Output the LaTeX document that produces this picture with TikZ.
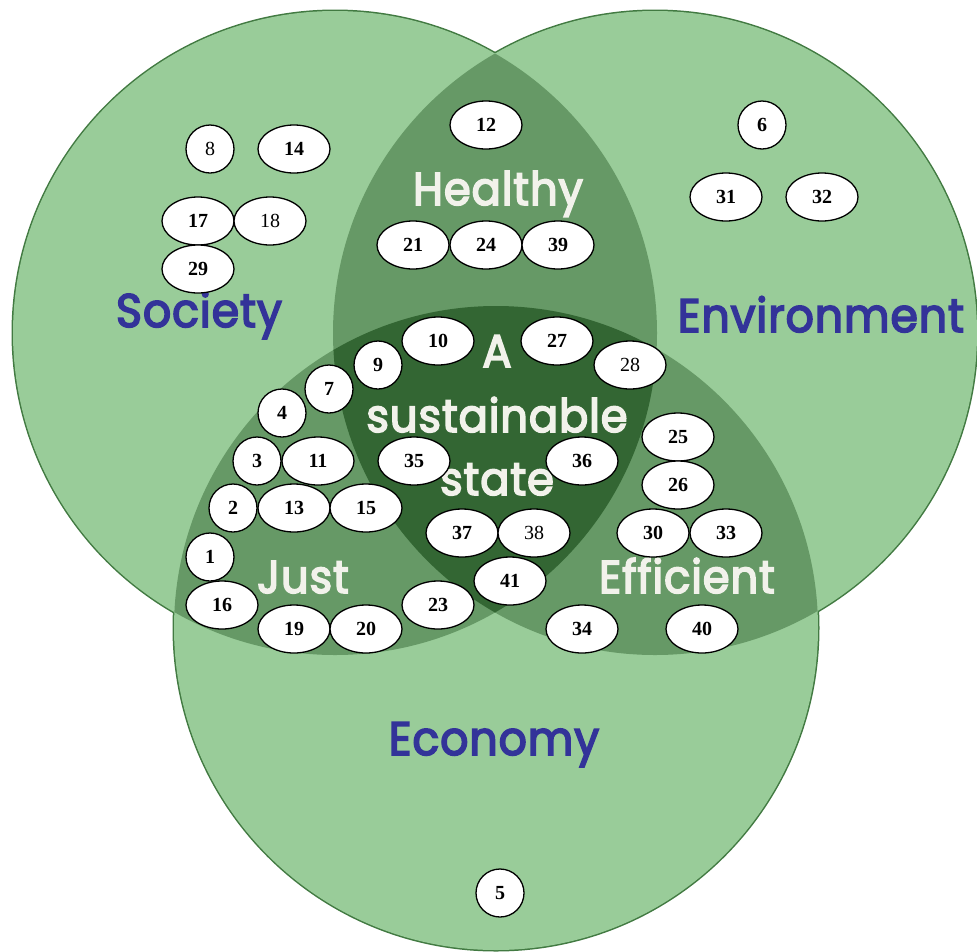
\documentclass[tikz,border=0pt]{standalone}
\usepackage{fontspec}
\setmainfont{Liberation Serif}
\newfontfamily\vennfont{Poppins}[FakeStretch=0.94, FakeBold=3.5, LetterSpace=2]
\usetikzlibrary{shapes.geometric}
\definecolor{lightgreen}{RGB}{153,204,153}
\definecolor{midgreen}{RGB}{102,153,102}
\definecolor{darkgreen}{RGB}{51,102,51}
\definecolor{rimgreen}{RGB}{66,122,66}
\definecolor{labelblue}{RGB}{51,51,153}
\definecolor{labelwhite}{RGB}{242,242,235}

\begin{document}
\begin{tikzpicture}[x=1pt,y=-1pt,
    numbox/.style={ellipse, draw=black, fill=white, line width=1.3pt, minimum width=72pt, minimum height=48pt, inner sep=0pt, font=\fontsize{20}{20}\selectfont\bfseries},
    onebox/.style={numbox, minimum width=48pt},
    plainnum/.style={font=\fontsize{20}{20}\selectfont},
    ringlabel/.style={anchor=base, text=labelblue, font=\vennfont\fontsize{47}{47}\selectfont},
    lenslabel/.style={anchor=base, text=labelwhite, font=\vennfont\fontsize{46}{46}\selectfont}]
       \useasboundingbox (0,0) rectangle (977,951);
       \coordinate (soc) at (335,333);
       \coordinate (env) at (655,333);
       \coordinate (eco) at (496,628);

       % rims first, the fills cover their inner half
       \draw[rimgreen, line width=3pt] (soc) circle (322);
       \draw[rimgreen, line width=3pt] (env) circle (322);
       \draw[rimgreen, line width=3pt] (eco) circle (322);
       \fill[lightgreen] (soc) circle (322);
       \fill[lightgreen] (env) circle (322);
       \fill[lightgreen] (eco) circle (322);

       \begin{scope}
         \clip (soc) circle (322);
         \fill[midgreen] (env) circle (322);
         \fill[midgreen] (eco) circle (322);
       \end{scope}
       \begin{scope}
         \clip (env) circle (322);
         \fill[midgreen] (eco) circle (322);
       \end{scope}
       \begin{scope}
         \clip (soc) circle (322);
         \clip (env) circle (322);
         \fill[darkgreen] (eco) circle (322);
       \end{scope}

       \node[ringlabel] (society) at (199,327) {Society};
       \node[ringlabel] (environment) at (821,332) {Environment};
       \node[ringlabel] (economy) at (494,755) {Economy};
       \node[lenslabel] (healthy) at (498,205) {Healthy};
       \node[lenslabel] (just) at (303,593) {Just};
       \node[lenslabel] (efficient) at (687,593) {Efficient};
       \node[lenslabel] (stateA) at (497,367) {A};
       \node[lenslabel] (stateB) at (497,432) {sustainable};
       \node[lenslabel] (stateC) at (497,495) {state};

       % Society only
       \node[onebox, plainnum] (n8) at (210,149) {8};
       \node[numbox] (n14) at (294,149) {14};
       \node[numbox] (n17) at (198,221) {17};
       \node[numbox, plainnum] (n18) at (270,221) {18};
       \node[numbox] (n29) at (198,269) {29};

       % Environment only
       \node[onebox] (n6) at (762,125) {6};
       \node[numbox] (n31) at (726,197) {31};
       \node[numbox] (n32) at (822,197) {32};

       % Economy only
       \node[onebox] (n5) at (500,893) {5};

       % Healthy
       \node[numbox] (n12) at (486,125) {12};
       \node[numbox] (n21) at (413,245) {21};
       \node[numbox] (n24) at (486,245) {24};
       \node[numbox] (n39) at (558,245) {39};

       % Just
       \node[onebox] (n7) at (329,389) {7};
       \node[onebox] (n4) at (282,413) {4};
       \node[onebox] (n3) at (257,461) {3};
       \node[numbox] (n11) at (318,461) {11};
       \node[onebox] (n2) at (233,508) {2};
       \node[numbox] (n13) at (294,508) {13};
       \node[numbox] (n15) at (366,508) {15};
       \node[onebox] (n1) at (210,557) {1};
       \node[numbox] (n16) at (222,605) {16};
       \node[numbox] (n23) at (438,605) {23};
       \node[numbox] (n19) at (294,629) {19};
       \node[numbox] (n20) at (366,629) {20};

       % Efficient
       \node[numbox, plainnum] (n28) at (630,365) {28};
       \node[numbox] (n25) at (678,437) {25};
       \node[numbox] (n26) at (678,485) {26};
       \node[numbox] (n30) at (653,533) {30};
       \node[numbox] (n33) at (726,533) {33};
       \node[numbox] (n34) at (582,629) {34};
       \node[numbox] (n40) at (702,629) {40};

       % A sustainable state
       \node[onebox] (n9) at (378,365) {9};
       \node[numbox] (n10) at (438,341) {10};
       \node[numbox] (n27) at (557,341) {27};
       \node[numbox] (n35) at (414,461) {35};
       \node[numbox] (n36) at (582,461) {36};
       \node[numbox] (n37) at (462,533) {37};
       \node[numbox, plainnum] (n38) at (534,533) {38};
       \node[numbox] (n41) at (510,581) {41};
      \end{tikzpicture}
\end{document}
